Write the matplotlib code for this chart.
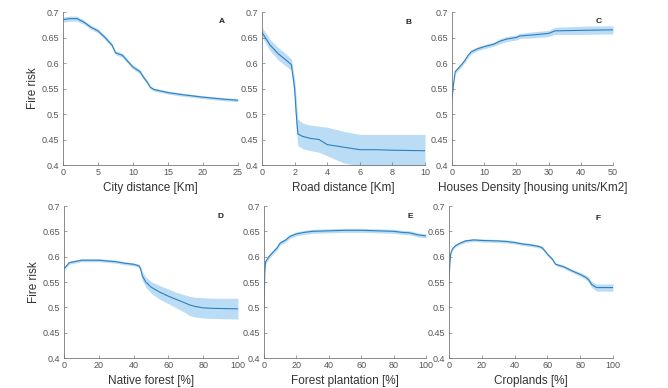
import matplotlib
matplotlib.use("Agg")
import matplotlib.pyplot as plt
import numpy as np

plt.rcParams['font.family'] = ['Liberation Sans', 'DejaVu Sans']

# ---- Data ----
city_x = [0, 1, 2, 3, 4, 5, 6, 7, 7.5, 8.5, 9, 10, 11, 11.5, 12, 12.5, 13, 15, 17, 20, 23, 25]
city_y = [0.685, 0.687, 0.687, 0.680, 0.670, 0.663, 0.650, 0.635, 0.620, 0.615, 0.607, 0.592,
          0.583, 0.572, 0.563, 0.552, 0.548, 0.542, 0.538, 0.533, 0.529, 0.527]
city_lo = [0.680, 0.682, 0.682, 0.676, 0.666, 0.659, 0.646, 0.631, 0.616, 0.611, 0.603, 0.588,
           0.579, 0.568, 0.559, 0.549, 0.545, 0.539, 0.535, 0.530, 0.526, 0.524]
city_hi = [0.690, 0.692, 0.692, 0.684, 0.674, 0.667, 0.654, 0.639, 0.624, 0.619, 0.611, 0.596,
           0.587, 0.576, 0.567, 0.555, 0.551, 0.545, 0.541, 0.536, 0.532, 0.530]

road_x = [0, 0.5, 1, 1.5, 1.8, 2.0, 2.1, 2.2, 2.5, 3, 3.5, 4, 5, 6, 7, 8, 10]
road_y = [0.660, 0.635, 0.618, 0.605, 0.597, 0.550, 0.500, 0.461, 0.456, 0.452, 0.450, 0.440,
          0.435, 0.430, 0.430, 0.429, 0.428]
road_lo = [0.651, 0.624, 0.606, 0.593, 0.586, 0.530, 0.470, 0.438, 0.432, 0.428, 0.425, 0.418,
           0.404, 0.398, 0.396, 0.395, 0.395]
road_hi = [0.670, 0.646, 0.630, 0.617, 0.608, 0.570, 0.530, 0.490, 0.482, 0.478, 0.476, 0.474,
           0.466, 0.460, 0.460, 0.460, 0.460]

house_x = [0, 0.5, 1, 2, 3, 4, 5, 6, 8, 10, 13, 15, 17, 20, 21, 25, 30, 32, 40, 50]
house_y = [0.530, 0.560, 0.583, 0.590, 0.597, 0.605, 0.615, 0.622, 0.628, 0.632, 0.637, 0.643,
           0.647, 0.650, 0.653, 0.655, 0.658, 0.663, 0.664, 0.665]
house_w = [0.004, 0.004, 0.004, 0.004, 0.004, 0.004, 0.004, 0.004, 0.004, 0.004, 0.004, 0.005,
           0.005, 0.005, 0.005, 0.006, 0.006, 0.007, 0.008, 0.008]

native_x = [0, 3, 10, 20, 30, 35, 40, 43, 44, 45, 47, 50, 55, 60, 65, 70, 72, 75, 80, 85, 100]
native_y = [0.576, 0.588, 0.593, 0.593, 0.590, 0.587, 0.585, 0.582, 0.576, 0.562, 0.550, 0.540,
            0.530, 0.522, 0.515, 0.508, 0.505, 0.502, 0.499, 0.498, 0.497]
native_lo = [0.573, 0.585, 0.590, 0.590, 0.587, 0.584, 0.582, 0.579, 0.571, 0.553, 0.540, 0.528,
             0.516, 0.507, 0.498, 0.489, 0.484, 0.481, 0.479, 0.478, 0.477]
native_hi = [0.579, 0.591, 0.596, 0.596, 0.593, 0.590, 0.588, 0.585, 0.581, 0.571, 0.560, 0.551,
             0.543, 0.536, 0.529, 0.524, 0.522, 0.520, 0.519, 0.518, 0.518]

plant_x = [0, 0.5, 1, 3, 5, 8, 10, 13, 16, 20, 25, 30, 40, 50, 60, 70, 80, 85, 90, 95, 100]
plant_y = [0.500, 0.570, 0.590, 0.600, 0.607, 0.617, 0.627, 0.632, 0.640, 0.645, 0.648, 0.650,
           0.651, 0.652, 0.652, 0.651, 0.650, 0.648, 0.647, 0.643, 0.641]
plant_w = [0.004] * 21

crop_x = [0, 0.5, 1, 2, 4, 7, 10, 15, 20, 30, 35, 40, 45, 50, 55, 57, 60, 63, 65, 68, 70, 75,
          80, 83, 85, 87, 90, 95, 100]
crop_y = [0.555, 0.585, 0.605, 0.615, 0.622, 0.627, 0.631, 0.633, 0.632, 0.631, 0.630, 0.628,
          0.625, 0.623, 0.620, 0.617, 0.605, 0.595, 0.585, 0.582, 0.580, 0.572, 0.565, 0.560,
          0.555, 0.545, 0.539, 0.539, 0.539]
crop_w = [0.003] * 22 + [0.004, 0.004, 0.005, 0.006, 0.007, 0.007, 0.007]

# ---- Plot ----
fig = plt.figure(figsize=(6.68, 3.88), dpi=100)
fig.patch.set_facecolor('white')

W, H = 668.0, 388.0
def ax_at(x0, x1, ytop, ybot):
    return fig.add_axes([x0 / W, 1 - ybot / H, (x1 - x0) / W, (ybot - ytop) / H])

line_c = '#2f7fbf'
band_c = '#b3d9f3'

panels = [
    (ax_at(63, 238, 12, 165), city_x, city_y, city_lo, city_hi, (0, 25), [0, 5, 10, 15, 20, 25],
     'City distance [Km]', 'A', True, (0.91, 0.94)),
    (ax_at(262, 425, 12, 165), road_x, road_y, road_lo, road_hi, (0, 10), [0, 2, 4, 6, 8, 10],
     'Road distance [Km]', 'B', False, (0.90, 0.93)),
    (ax_at(452, 613, 12, 165), house_x, house_y,
     list(np.subtract(house_y, house_w)), list(np.add(house_y, house_w)), (0, 50),
     [0, 10, 20, 30, 40, 50], 'Houses Density [housing units/Km2]', 'C', False, (0.91, 0.94)),
    (ax_at(64, 238, 206, 358), native_x, native_y, native_lo, native_hi, (0, 100),
     [0, 20, 40, 60, 80, 100], 'Native forest [%]', 'D', True, (0.90, 0.93)),
    (ax_at(264, 426, 206, 358), plant_x, plant_y,
     list(np.subtract(plant_y, plant_w)), list(np.add(plant_y, plant_w)), (0, 100),
     [0, 20, 40, 60, 80, 100], 'Forest plantation [%]', 'E', False, (0.90, 0.93)),
    (ax_at(449, 613, 206, 358), crop_x, crop_y,
     list(np.subtract(crop_y, crop_w)), list(np.add(crop_y, crop_w)), (0, 100),
     [0, 20, 40, 60, 80, 100], 'Croplands [%]', 'F', False, (0.91, 0.92)),
]

yticks = [0.4, 0.45, 0.5, 0.55, 0.6, 0.65, 0.7]
yticklabels = ['0.4', '0.45', '0.5', '0.55', '0.6', '0.65', '0.7']

for ax, x, y, lo, hi, xlim, xt, xlabel, letter, ylab, lpos in panels:
    ax.fill_between(x, lo, hi, color=band_c, alpha=0.9, linewidth=0)
    ax.plot(x, y, color=line_c, linewidth=0.8)
    ax.set_xlim(*xlim)
    ax.set_ylim(0.4, 0.7)
    ax.set_xticks(xt)
    ax.set_xticklabels([str(v) for v in xt])
    ax.set_yticks(yticks)
    ax.set_yticklabels(yticklabels)
    for s in ['top', 'right']:
        ax.spines[s].set_visible(False)
    for s in ['left', 'bottom']:
        ax.spines[s].set_color('#777777')
        ax.spines[s].set_linewidth(0.6)
    ax.tick_params(direction='in', length=2, width=0.5, colors='#777777',
                   labelcolor='#555555', labelsize=6.5, pad=2.5)
    ax.set_xlabel(xlabel, fontsize=8.5, color='#333333', labelpad=3.5)
    if ylab:
        ax.set_ylabel('Fire risk', fontsize=8.5, color='#333333', labelpad=2)
    ax.text(lpos[0], lpos[1], letter, transform=ax.transAxes, fontsize=6,
            fontweight='bold', color='#222222', ha='center', va='center')

fig.savefig('out.png', dpi=100)
